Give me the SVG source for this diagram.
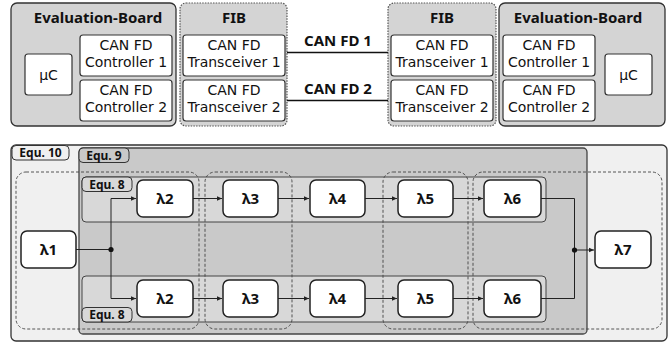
<svg xmlns="http://www.w3.org/2000/svg" width="672" height="347" viewBox="0 0 672 347">
<style>
text{font-family:"Noto Sans","Open Sans","DejaVu Sans",sans-serif;fill:#111}
.t{font-size:15px;text-anchor:middle}
.m{font-family:"DejaVu Sans","Noto Sans",sans-serif;font-size:14px;text-anchor:middle}
.b{font-weight:bold}
.board{fill:#d4d4d4;stroke:#333;stroke-width:1.3}
.fib{fill:#d4d4d4;stroke:#555;stroke-width:1.2;stroke-dasharray:1.5,1.2}
.box{fill:#fff;stroke:#333;stroke-width:1.2}
.node{fill:#fff;stroke:#222;stroke-width:1.5}
.dash{fill:none;stroke:#444;stroke-width:0.9;stroke-dasharray:3,2}
.tag{font-size:12px;font-weight:bold}
.ln{fill:none;stroke:#222;stroke-width:1}
</style>
<defs>
<marker id="ah" markerWidth="6" markerHeight="6" refX="5" refY="3" orient="auto" markerUnits="userSpaceOnUse">
<path d="M0,0.8 L5,3 L0,5.2 Z" fill="#222"/>
</marker>
</defs>

<!-- Top section -->
<g id="eval-left">
<rect class="board" x="11" y="3" width="165" height="123" rx="6"/>
<text class="t b" x="98" y="23">Evaluation-Board</text>
</g>
<g id="uc-left">
<rect class="box" x="25" y="54" width="47" height="41" rx="3"/>
<text class="m" x="48.5" y="80">μC</text>
</g>
<g id="ctrl1-left">
<rect class="box" x="80" y="35" width="92" height="41" rx="3"/>
<text class="m" x="126" y="50">CAN FD</text>
<text class="m" x="126" y="67">Controller 1</text>
</g>
<g id="ctrl2-left">
<rect class="box" x="80" y="80" width="92" height="41" rx="3"/>
<text class="m" x="126" y="95">CAN FD</text>
<text class="m" x="126" y="112">Controller 2</text>
</g>
<g id="fib-left">
<rect class="fib" x="180" y="3" width="107" height="123" rx="6"/>
<text class="t b" x="234" y="23">FIB</text>
</g>
<g id="trx1-left">
<rect class="box" x="183" y="35" width="102" height="41" rx="3"/>
<text class="m" x="234" y="50">CAN FD</text>
<text class="m" x="234" y="67">Transceiver 1</text>
</g>
<g id="trx2-left">
<rect class="box" x="183" y="80" width="102" height="41" rx="3"/>
<text class="m" x="234" y="95">CAN FD</text>
<text class="m" x="234" y="112">Transceiver 2</text>
</g>

<g id="fib-right">
<rect class="fib" x="388" y="3" width="108" height="123" rx="6"/>
<text class="t b" x="442" y="23">FIB</text>
</g>
<g id="trx1-right">
<rect class="box" x="391" y="35" width="102" height="41" rx="3"/>
<text class="m" x="442" y="50">CAN FD</text>
<text class="m" x="442" y="67">Transceiver 1</text>
</g>
<g id="trx2-right">
<rect class="box" x="391" y="80" width="102" height="41" rx="3"/>
<text class="m" x="442" y="95">CAN FD</text>
<text class="m" x="442" y="112">Transceiver 2</text>
</g>
<g id="eval-right">
<rect class="board" x="499" y="3" width="166" height="123" rx="6"/>
<text class="t b" x="578" y="23">Evaluation-Board</text>
</g>
<g id="ctrl1-right">
<rect class="box" x="503" y="35" width="92" height="41" rx="3"/>
<text class="m" x="549" y="50">CAN FD</text>
<text class="m" x="549" y="67">Controller 1</text>
</g>
<g id="ctrl2-right">
<rect class="box" x="503" y="80" width="92" height="41" rx="3"/>
<text class="m" x="549" y="95">CAN FD</text>
<text class="m" x="549" y="112">Controller 2</text>
</g>
<g id="uc-right">
<rect class="box" x="605" y="54" width="47" height="41" rx="3"/>
<text class="m" x="628.5" y="80">μC</text>
</g>

<g id="bus">
<line x1="287" y1="52.5" x2="388" y2="52.5" stroke="#111" stroke-width="1.5"/>
<line x1="287" y1="100.5" x2="388" y2="100.5" stroke="#111" stroke-width="1.5"/>
<text class="t b" x="338" y="46">CAN FD 1</text>
<text class="t b" x="338" y="94">CAN FD 2</text>
</g>

<!-- Bottom section -->
<g id="equ10">
<rect x="11" y="145" width="656" height="196" rx="5" fill="#f0f0f0" stroke="#333" stroke-width="1.3"/>
<rect x="12" y="145.5" width="57" height="14.5" rx="4" fill="#f0f0f0" stroke="#333" stroke-width="1"/>
<text class="tag" x="40.5" y="156.5" text-anchor="middle">Equ. 10</text>
</g>
<g id="equ9">
<rect x="79" y="148" width="508" height="186" rx="4" fill="#c9c9c9" stroke="#444" stroke-width="1.3"/>
<rect x="79" y="148" width="50" height="14.5" rx="4" fill="#c9c9c9" stroke="#333" stroke-width="1"/>
<text class="tag" x="104" y="159.5" text-anchor="middle">Equ. 9</text>
</g>
<g id="equ8-top">
<rect x="82" y="177" width="464" height="45" rx="4" fill="#d8d8d8" stroke="#444" stroke-width="1"/>
<rect x="82" y="177" width="50" height="14.5" rx="4" fill="#d8d8d8" stroke="#333" stroke-width="1"/>
<text class="tag" x="107" y="188.5" text-anchor="middle">Equ. 8</text>
</g>
<g id="equ8-bottom">
<rect x="82" y="276" width="464" height="46" rx="4" fill="#d8d8d8" stroke="#444" stroke-width="1"/>
<rect x="82" y="307.5" width="50" height="14.5" rx="4" fill="#d8d8d8" stroke="#333" stroke-width="1"/>
<text class="tag" x="107" y="319" text-anchor="middle">Equ. 8</text>
</g>

<g id="groups">
<rect class="dash" x="16" y="172" width="183" height="157" rx="10"/>
<rect class="dash" x="205" y="172" width="87" height="157" rx="10"/>
<rect class="dash" x="383" y="172" width="85" height="157" rx="10"/>
<rect class="dash" x="473" y="172" width="189" height="157" rx="10"/>
</g>

<g id="connectors">
<path class="ln" d="M76,249.5 H111"/>
<path class="ln" d="M111,249.5 V198.5 H136" marker-end="url(#ah)"/>
<path class="ln" d="M111,249.5 V298.5 H136" marker-end="url(#ah)"/>
<circle cx="111" cy="249.5" r="2.6" fill="#111"/>
<path class="ln" d="M193,198.5 H222" marker-end="url(#ah)"/>
<path class="ln" d="M278,198.5 H309" marker-end="url(#ah)"/>
<path class="ln" d="M365,198.5 H397" marker-end="url(#ah)"/>
<path class="ln" d="M453,198.5 H483" marker-end="url(#ah)"/>
<path class="ln" d="M193,298.5 H222" marker-end="url(#ah)"/>
<path class="ln" d="M278,298.5 H309" marker-end="url(#ah)"/>
<path class="ln" d="M365,298.5 H397" marker-end="url(#ah)"/>
<path class="ln" d="M453,298.5 H483" marker-end="url(#ah)"/>
<path class="ln" d="M541,198.5 H574.5 V298.5 H541"/>
<path class="ln" d="M574.5,250 H594" marker-end="url(#ah)"/>
<circle cx="574.5" cy="250" r="2.6" fill="#111"/>
</g>

<g id="l1"><rect class="node" x="21" y="231" width="55" height="37" rx="6"/><text class="t b" x="48.5" y="255">λ1</text></g>
<g id="l2a"><rect class="node" x="137" y="180" width="56" height="37" rx="6"/><text class="t b" x="165" y="204">λ2</text></g>
<g id="l3a"><rect class="node" x="223" y="180" width="55" height="37" rx="6"/><text class="t b" x="250.5" y="204">λ3</text></g>
<g id="l4a"><rect class="node" x="310" y="180" width="55" height="37" rx="6"/><text class="t b" x="337.5" y="204">λ4</text></g>
<g id="l5a"><rect class="node" x="398" y="180" width="55" height="37" rx="6"/><text class="t b" x="425.5" y="204">λ5</text></g>
<g id="l6a"><rect class="node" x="484" y="180" width="57" height="37" rx="6"/><text class="t b" x="512.5" y="204">λ6</text></g>
<g id="l2b"><rect class="node" x="137" y="280" width="56" height="37" rx="6"/><text class="t b" x="165" y="304">λ2</text></g>
<g id="l3b"><rect class="node" x="223" y="280" width="55" height="37" rx="6"/><text class="t b" x="250.5" y="304">λ3</text></g>
<g id="l4b"><rect class="node" x="310" y="280" width="55" height="37" rx="6"/><text class="t b" x="337.5" y="304">λ4</text></g>
<g id="l5b"><rect class="node" x="398" y="280" width="55" height="37" rx="6"/><text class="t b" x="425.5" y="304">λ5</text></g>
<g id="l6b"><rect class="node" x="484" y="280" width="57" height="37" rx="6"/><text class="t b" x="512.5" y="304">λ6</text></g>
<g id="l7"><rect class="node" x="595" y="231" width="56" height="37" rx="6"/><text class="t b" x="623" y="255">λ7</text></g>
</svg>
